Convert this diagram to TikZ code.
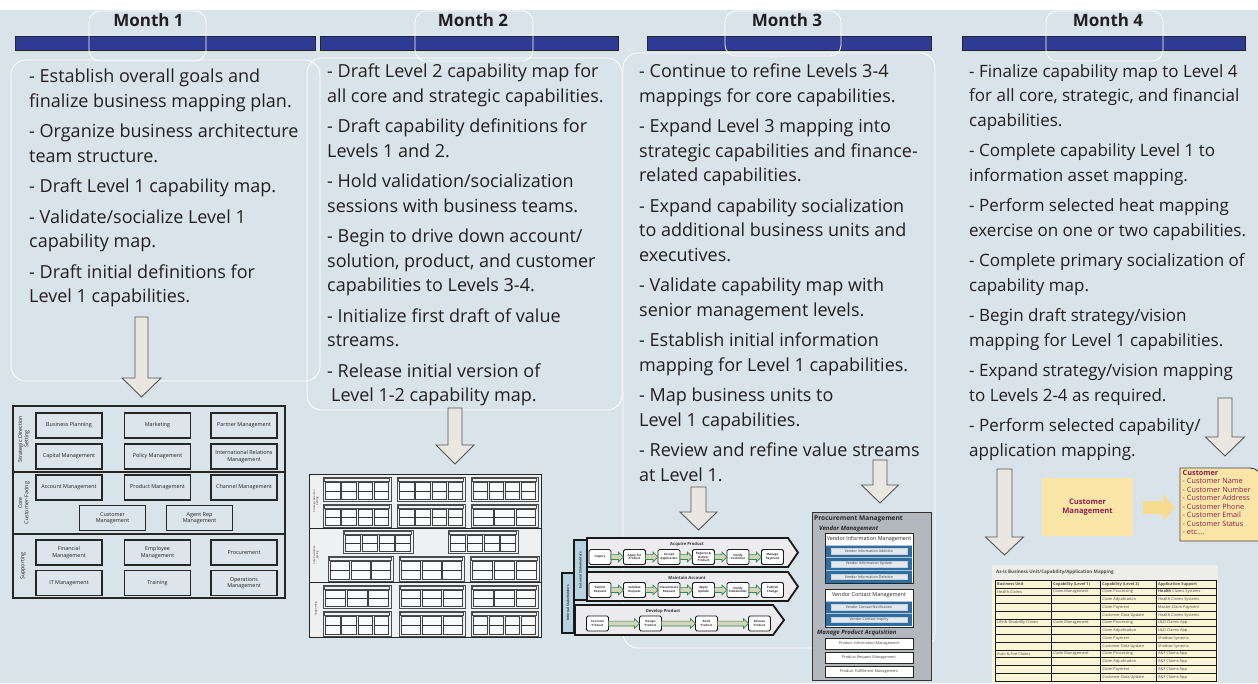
\documentclass[tikz,border=0pt]{standalone}
\usepackage{fontspec}
\setmainfont{Open Sans}
\usetikzlibrary{calc}

\definecolor{bgblue}{HTML}{D9E3EA}
\definecolor{navy}{HTML}{2E3A94}
\definecolor{ink}{HTML}{231F20}
\definecolor{arrowfill}{HTML}{E9E7DF}
\definecolor{arrowline}{HTML}{555555}
\definecolor{mapfill}{HTML}{DCE5EB}
\definecolor{thumbfill}{HTML}{EEF1F2}
\definecolor{vsfill}{HTML}{ECECEF}
\definecolor{stakeblue}{HTML}{B7D3E2}
\definecolor{stepgreen}{HTML}{2E8B57}
\definecolor{stepfill}{HTML}{D6D4B8}
\definecolor{procgray}{HTML}{B3B8BF}
\definecolor{vendblue}{HTML}{2F6E9E}
\definecolor{vendbar}{HTML}{E4E8EC}
\definecolor{custyellow}{HTML}{FBE6A8}
\definecolor{custarrow}{HTML}{F7DC90}
\definecolor{custred}{HTML}{8E1F4F}
\definecolor{tablecream}{HTML}{F8F6D6}
\definecolor{tabletitle}{HTML}{EDEDEA}

\tikzset{
  monthhead/.style={font=\bfseries\fontsize{17}{20}\selectfont, text=ink, inner sep=0pt},
  monthbar/.style={fill=navy, draw=black!85, line width=0.9},
  tab/.style={draw=white, line width=0.8, rounded corners=11},
  bodybox/.style={draw=white, line width=0.8, rounded corners=15},
  monthtext/.style={anchor=north west, inner sep=0pt, align=left, text=ink,
    font=\fontsize{18}{24.5}\selectfont},
  bigarrow/.style={fill=arrowfill, draw=arrowline, line width=0.9, line join=miter},
  mapframe/.style={draw=black!85, line width=1.3},
  capbox/.style={draw=black!85, line width=1.4, fill=mapfill, minimum width=66pt,
    minimum height=25pt, inner sep=0.5pt, align=center, text=ink,
    font=\fontsize{5.4}{6.4}\selectfont},
  bandlabel/.style={rotate=90, align=center, text=ink, inner sep=0pt,
    font=\fontsize{5.4}{6.2}\selectfont},
  tinylabel/.style={rotate=90, align=center, text=ink, inner sep=0pt,
    font=\fontsize{2.6}{3}\selectfont},
  grpframe/.style={draw=black!70, line width=0.6},
  grpcell/.style={draw=black!75, line width=0.6, fill=white!85!bgblue},
  chevron/.style={draw=black!90, line width=1.8, fill=vsfill, line join=miter},
  stake/.style={draw=black!90, line width=1.1, fill=stakeblue},
  stakelabel/.style={rotate=90, inner sep=0pt, font=\bfseries\fontsize{3.3}{4}\selectfont, text=black!80},
  vstitle/.style={inner sep=0pt, font=\bfseries\fontsize{4.2}{5}\selectfont, text=black!80},
  stepbox/.style={draw=black!90, line width=0.9, fill=white, rounded corners=1.5,
    minimum width=22pt, minimum height=15pt, inner sep=0pt, align=center,
    font=\bfseries\fontsize{3}{3.6}\selectfont, text=black!80},
  steparr/.style={fill=stepfill, draw=stepgreen, line width=0.7, line join=miter},
  procbox/.style={draw=black!80, line width=1, fill=procgray},
  whitebox/.style={draw=black!85, line width=0.9, fill=white},
  vendrow/.style={fill=vendbar, draw=white!70!vendblue, line width=0.4, minimum width=76pt,
    minimum height=5.5pt, inner sep=0pt, font=\fontsize{3.6}{4}\selectfont, text=black!75},
  prodrow/.style={whitebox, minimum width=88pt, minimum height=11pt, inner sep=0pt,
    font=\fontsize{3.8}{4}\selectfont, text=black!75},
  tcell/.style={anchor=west, inner sep=0pt, font=\fontsize{3.9}{4.5}\selectfont, text=black!70},
  thead/.style={tcell, font=\bfseries\fontsize{3.9}{4.5}\selectfont},
}

% vertical block arrow: centre x, top, neck, tip, half shaft, half head
\newcommand{\blockdown}[6]{%
  \draw[bigarrow] ({#1-#5},#2) -- ({#1+#5},#2) -- ({#1+#5},#3) -- ({#1+#6},#3)
    -- (#1,#4) -- ({#1-#6},#3) -- ({#1-#5},#3) -- cycle;}

% small horizontal step connector: from x, to x, centre y
\newcommand{\steparrow}[3]{%
  \draw[steparr] (#1,{#3-2.4}) -- ({#2-5},{#3-2.4}) -- ({#2-5},{#3-4.8}) -- (#2,#3)
    -- ({#2-5},{#3+4.8}) -- ({#2-5},{#3+2.4}) -- (#1,{#3+2.4}) -- cycle;}

% value stream chevron: x1, x2, tip x, y1, y2
\newcommand{\chevronband}[5]{%
  \draw[chevron] (#1,#4) -- (#2,#4) -- (#3,{(#4+#5)/2}) -- (#2,#5) -- (#1,#5) -- cycle;}

% capability group thumbnail: x1, y1, x2, y2, columns, middle rule width
\newcommand{\capgrp}[6]{%
  \draw[grpframe, fill=white!60!bgblue] (#1,#2) rectangle (#3,#4);
  \draw[grpframe, line width=0.4] ({#1+1.5},{#2+1.2}) rectangle ({#3-1.5},{#2+4.2});
  \pgfmathsetmacro{\gcw}{(#3-#1-3)/#5}
  \pgfmathsetmacro{\gym}{(#2+5.5+#4-1.5)/2}
  \foreach \k in {1,...,#5}{%
    \pgfmathsetmacro{\gcx}{#1+1.5+(\k-1)*\gcw}
    \draw[grpcell] ({\gcx+0.8},{#2+5.5}) rectangle ({\gcx+\gcw-0.8},{#4-1.5});
    \draw[draw=black!80, line width=#6] ({\gcx+0.8},\gym) -- ({\gcx+\gcw-0.8},\gym);
  }}

\begin{document}
\begin{tikzpicture}[x=1pt, y=-1pt]
\useasboundingbox (0,0) rectangle (1258,683);
\fill[white] (0,0) rectangle (1258,683);
\fill[bgblue] (0,10) rectangle (1258,683);

% ---------- month headers ----------
\draw[monthbar] (15,36) rectangle (315,50);
\draw[monthbar] (320,36) rectangle (618,50);
\draw[monthbar] (647,36) rectangle (931,50);
\draw[monthbar] (962,36) rectangle (1245,50);
\draw[tab] (89,11) rectangle (206,61);
\draw[tab] (415,11) rectangle (533,61);
\draw[tab] (725,11) rectangle (841,56);
\draw[tab] (1046,11) rectangle (1163,61);
\node[monthhead] (h1) at (148.5,20) {Month 1};
\node[monthhead] (h2) at (473,20) {Month 2};
\node[monthhead] (h3) at (787,20) {Month 3};
\node[monthhead] (h4) at (1108,20) {Month 4};

% ---------- text panels ----------
\draw[bodybox] (11,60) rectangle (320,381);
\draw[bodybox] (307,58) rectangle (622,410);
\draw[bodybox] (623,53) rectangle (935,648);

\node[monthtext] (t1) at (29,69) {%
- Establish overall goals and\\
finalize business mapping plan.\\[6pt]
- Organize business architecture\\
team structure.\\[6pt]
- Draft Level 1 capability map.\\[6pt]
- Validate/socialize Level 1\\
capability map.\\[6pt]
- Draft initial definitions for\\
Level 1 capabilities.};

\node[monthtext] (t2) at (327,64) {%
- Draft Level 2 capability map for\\
all core and strategic capabilities.\\[6pt]
- Draft capability definitions for\\
Levels 1 and 2.\\[6pt]
- Hold validation/socialization\\
sessions with business teams.\\[6pt]
- Begin to drive down account/\\
solution, product, and customer\\
capabilities to Levels 3-4.\\[6pt]
- Initialize first draft of value\\
streams.\\[6pt]
- Release initial version of\\
\hspace*{4pt}Level 1-2 capability map.};

\node[monthtext] (t3) at (639,64) {%
- Continue to refine Levels 3-4\\
mappings for core capabilities.\\[6pt]
- Expand Level 3 mapping into\\
strategic capabilities and finance-\\
related capabilities.\\[6pt]
- Expand capability socialization\\
to additional business units and\\
executives.\\[6pt]
- Validate capability map with\\
senior management levels.\\[6pt]
- Establish initial information\\
mapping for Level 1 capabilities.\\[6pt]
- Map business units to\\
Level 1 capabilities.\\[6pt]
- Review and refine value streams\\
at Level 1.};

\node[monthtext, font=\fontsize{17}{24.5}\selectfont] (t4) at (969,64) {%
- Finalize capability map to Level 4\\
for all core, strategic, and financial\\
capabilities.\\[6pt]
- Complete capability Level 1 to\\
information asset mapping.\\[6pt]
- Perform selected heat mapping\\
exercise on one or two capabilities.\\[6pt]
- Complete primary socialization of\\
capability map.\\[6pt]
- Begin draft strategy/vision\\
mapping for Level 1 capabilities.\\[6pt]
- Expand strategy/vision mapping\\
to Levels 2-4 as required.\\[6pt]
- Perform selected capability/\\
application mapping.};

% ---------- arrows ----------
\blockdown{141.5}{317}{378}{397}{6.5}{19.5}
\blockdown{455}{408}{445}{464}{7}{19}
\blockdown{698.5}{487}{512}{530}{7.5}{18.5}
\blockdown{880}{460}{485}{503}{7}{18.5}
\blockdown{1004.5}{469}{537}{555}{7.5}{19}
\blockdown{1225}{398}{437}{456}{7}{19.5}

% ---------- month 1: level 1 capability map ----------
\draw[mapframe] (13,406) rectangle (285,598);
\draw[mapframe] (13,472) -- (285,472) (13,534) -- (285,534);
\node[bandlabel] (m1s) at (24,439) {Strategic Direction\\Setting};
\node[bandlabel] (m1c) at (24,503) {Core\\Customer-Facing};
\node[bandlabel] (m1p) at (23,566) {Supporting};
\node[capbox] (c11) at (69,425.5)    {Business Planning};
\node[capbox] (c12) at (157.5,425.5) {Marketing};
\node[capbox] (c13) at (244,425.5)   {Partner Management};
\node[capbox] (c21) at (69,456.5)    {Capital Management};
\node[capbox] (c22) at (157.5,456.5) {Policy Management};
\node[capbox] (c23) at (244,456.5)   {International Relations\\Management};
\node[capbox] (c31) at (69,487.5)    {Account Management};
\node[capbox] (c32) at (157.5,487.5) {Product Management};
\node[capbox] (c33) at (244,487.5)   {Channel Management};
\node[capbox] (c41) at (112.5,518)   {Customer\\Management};
\node[capbox] (c42) at (199.5,518)   {Agent Rep\\Management};
\node[capbox] (c51) at (69,552.5)    {Financial\\Management};
\node[capbox] (c52) at (157.5,552.5) {Employee\\Management};
\node[capbox] (c53) at (244,552.5)   {Procurement};
\node[capbox] (c61) at (69,583)      {IT Management};
\node[capbox] (c62) at (157.5,583)   {Training};
\node[capbox] (c63) at (244,583)     {Operations\\Management};

% ---------- month 2: level 1-2 capability map ----------
\draw[mapframe, fill=thumbfill, line width=0.9] (309,474) rectangle (541,637);
\draw[mapframe, line width=0.9] (309,528) -- (541,528) (309,582) -- (541,582);
\node[tinylabel] (m2s) at (316,501) {Strategic Direction\\Setting};
\node[tinylabel] (m2c) at (316,555) {Core Customer-\\Facing};
\node[tinylabel] (m2p) at (316,609) {Supporting};
\capgrp{323}{477}{391}{501}{4}{0.5}
\capgrp{397}{477}{465}{501}{4}{0.5}
\capgrp{471}{477}{538}{501}{4}{0.5}
\capgrp{323}{504}{391}{527}{4}{0.5}
\capgrp{397}{504}{465}{527}{4}{0.5}
\capgrp{471}{504}{538}{527}{3}{0.5}
\capgrp{343}{530}{413}{553}{4}{0.5}
\capgrp{448}{530}{518}{553}{4}{0.5}
\capgrp{328}{556}{393}{581}{3}{1.4}
\capgrp{399}{556}{464}{581}{3}{1.4}
\capgrp{470}{556}{539}{581}{3}{1.4}
\capgrp{323}{585}{391}{608}{3}{1.4}
\capgrp{399}{585}{465}{608}{3}{0.5}
\capgrp{471}{585}{538}{608}{3}{0.5}
\capgrp{323}{611}{391}{636}{4}{0.5}
\capgrp{399}{611}{465}{636}{3}{0.5}
\capgrp{471}{611}{538}{636}{4}{0.5}

% ---------- month 3: value streams ----------
\draw[stake] (562,573) rectangle (574,633);
\node[stakelabel] (ist) at (568,603) {Internal Stakeholders};
\draw[stake] (574,540) rectangle (587,600);
\node[stakelabel] (est) at (580.5,570) {External Stakeholders};
\chevronband{587}{788}{798}{538}{567}
\chevronband{587}{788}{798}{572}{601}
\chevronband{575}{773}{784}{605}{635}
\node[vstitle] (vs1) at (687,544) {Acquire Product};
\node[vstitle] (vs2) at (687,578) {Maintain Account};
\node[vstitle] (vs3) at (663,611) {Develop Product};

\foreach \i/\lab in {0/Inquiry, 1/{Apply for\\Product}, 2/{Accept\\Application},
    3/{Register \&\\Deliver\\Product}, 4/{Notify\\Customer}, 5/{Manage\\Payment}}{
  \node[stepbox] (a\i) at ({600+\i*34.5},557) {\lab};
}
\foreach \i/\lab in {0/{Submit\\Request}, 1/{Validate\\Request}, 2/{Disseminate\\Request},
    3/{Apply\\Update}, 4/{Notify\\Stakeholder}, 5/{Publish\\Change}}{
  \node[stepbox] (b\i) at ({600+\i*34.5},590) {\lab};
}
\foreach \i in {0,...,4}{
  \pgfmathsetmacro{\xa}{600+\i*34.5+11}
  \pgfmathsetmacro{\xb}{600+(\i+1)*34.5-11}
  \steparrow{\xa}{\xb}{557}
  \steparrow{\xa}{\xb}{590}
}
\node[stepbox] (d0) at (597.5,623.5) {Conceive\\Product};
\node[stepbox] (d1) at (650.5,623.5) {Design\\Product};
\node[stepbox] (d2) at (706.5,623.5) {Build\\Product};
\node[stepbox] (d3) at (759.5,623.5) {Release\\Product};
\steparrow{608.5}{639.5}{623.5}
\steparrow{661.5}{695.5}{623.5}
\steparrow{717.5}{748.5}{623.5}

% ---------- month 3: procurement management ----------
\draw[procbox] (812,512) rectangle (931,680);
\node[anchor=west, inner sep=0pt, font=\bfseries\fontsize{6.6}{7}\selectfont, text=black!85]
  (pm) at (814,518.5) {Procurement Management};
\node[anchor=west, inner sep=0pt, font=\bfseries\itshape\fontsize{6}{7}\selectfont, text=black!85]
  (vm) at (819,529) {Vendor Management};
\draw[whitebox] (825,533) rectangle (913,583);
\node[inner sep=0pt, font=\fontsize{5.4}{6}\selectfont, text=black!85] (vim) at (869,539) {Vendor Information Management};
\foreach \y/\lab/\nm in {545/Vendor Information Addition/va, 557.7/Vendor Information Update/vu,
    570.4/Vendor Information Deletion/vd}{
  \fill[vendblue] (826,\y) rectangle (912,{\y+12.5});
  \draw[white!60!vendblue, line width=0.5] (826,\y) -- (912,\y);
  \node[vendrow] (\nm) at (869,{\y+6.25}) {\lab};
}
\draw[whitebox] (825,589) rectangle (913,627);
\node[inner sep=0pt, font=\fontsize{5.4}{6}\selectfont, text=black!85] (vcm) at (869,595) {Vendor Contact Management};
\foreach \y/\lab/\nm in {601/Vendor Contact Notification/vn, 613.5/Vendor Contact Inquiry/vq}{
  \fill[vendblue] (826,\y) rectangle (912,{\y+12.5});
  \draw[white!60!vendblue, line width=0.5] (826,\y) -- (912,\y);
  \node[vendrow] (\nm) at (869,{\y+6.25}) {\lab};
}
\node[anchor=west, inner sep=0pt, font=\bfseries\itshape\fontsize{6}{7}\selectfont, text=black!85]
  (mpa) at (817,633) {Manage Product Acquisition};
\node[prodrow] (pim) at (869,643.5) {Product Information Management};
\node[prodrow] (prm) at (869,657.5) {Product Request Management};
\node[prodrow] (pfm) at (869,671.5) {Product Fulfillment Management};

% ---------- month 4: customer information ----------
\node[fill=custyellow, minimum width=91pt, minimum height=58pt, inner sep=0pt, align=center,
  text=custred, font=\bfseries\fontsize{7.6}{9}\selectfont] (cm) at (1087.5,507) {Customer\\Management};
\draw[fill=custyellow, draw=black!75, line width=0.9]
  (1180,468) -- (1250,468) to[out=0,in=90] (1262,480) -- (1262,541) -- (1180,541) -- cycle;
\fill[custarrow] (1143,501) -- (1163,501) -- (1163,494) -- (1175,507.5) -- (1163,521) -- (1163,514) -- (1143,514) -- cycle;
\node[anchor=north west, inner sep=0pt, align=left, text=custred,
  font=\fontsize{7.3}{8.45}\selectfont] (cust) at (1182.5,470) {%
\textbf{Customer}\\
- Customer Name\\
- Customer Number\\
- Customer Address\\
- Customer Phone\\
- Customer Email\\
- Customer Status\\
- etc….};

% ---------- month 4: as-is mapping table ----------
\fill[tablecream] (992,565) rectangle (1218,683);
\fill[tabletitle] (992,565) rectangle (1218,580);
\node[anchor=west, inner sep=0pt, font=\bfseries\fontsize{4.6}{5}\selectfont, text=black!70]
  (tt) at (996,572.5) {As-Is Business Unit/Capability/Application Mapping};
\foreach \xa/\xb in {995/1051,1051/1100,1100/1156,1156/1216}{
  \draw[draw=black!90, line width=1] (\xa,580) rectangle (\xb,588);
}
\foreach \r in {0,...,11}{
  \foreach \xa/\xb in {995/1051,1051/1100,1100/1156,1156/1216}{
    \draw[draw=black!90, line width=1] (\xa,{588+\r*7.75}) rectangle (\xb,{588+(\r+1)*7.75});
  }
}
\node[thead] (th1) at (997,584) {Business Unit};
\node[thead] (th2) at (1053,584) {Capability (Level 1)};
\node[thead] (th3) at (1102,584) {Capability (Level 2)};
\node[thead] (th4) at (1158,584) {Application Support};
\foreach \r/\bu/\lone/\ltwo/\app in {
  0/Health Claims/Claim Management/Claim Processing/{\textbf{Health} Claims Systems},
  1/{}/{}/Claim Adjudication/Health Claims Systems,
  2/{}/{}/Claim Payment/Master Claim Payment,
  3/{}/{}/Customer Data Update/Health Claims Systems,
  4/Life \& Disability Claims/Claim Management/Claim Processing/L\&D Claims App.,
  5/{}/{}/Claim Adjudication/L\&D Claims App.,
  6/{}/{}/Claim Payment/Shadow Systems,
  7/{}/{}/Customer Data Update/Shadow Systems,
  8/Auto \& Fire Claims/Claim Management/Claim Processing/A\&F Claims App.,
  9/{}/{}/Claim Adjudication/A\&F Claims App.,
  10/{}/{}/Claim Payment/A\&F Claims App.,
  11/{}/{}/Customer Data Update/A\&F Claims App.}{
  \pgfmathsetmacro{\ry}{588+\r*7.75+3.9}
  \node[tcell] (bu\r) at (997,\ry) {\bu};
  \node[tcell] (la\r) at (1053,\ry) {\lone};
  \node[tcell] (lb\r) at (1102,\ry) {\ltwo};
  \node[tcell] (ap\r) at (1158,\ry) {\app};
}
\end{tikzpicture}
\end{document}
